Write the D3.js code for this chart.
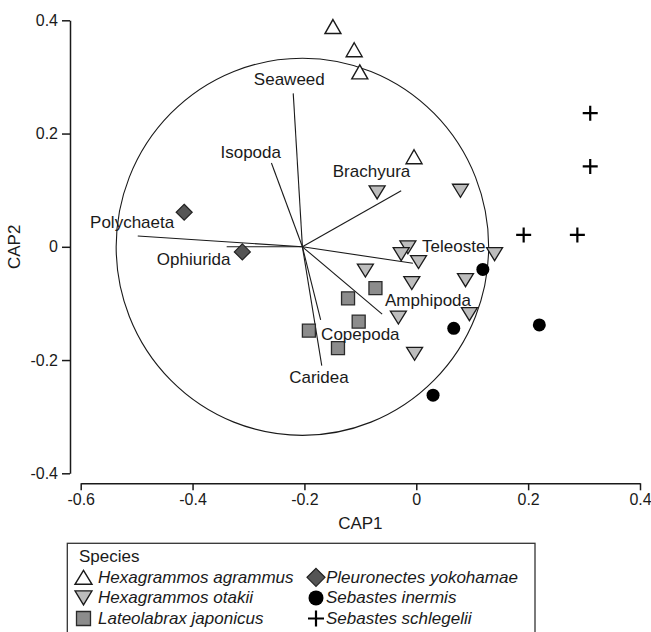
<!DOCTYPE html>
<html>
<head>
<meta charset="utf-8">
<script src="https://cdn.jsdelivr.net/npm/d3@7"></script>
<style>
  html, body { margin: 0; padding: 0; background: #fff; }
  svg { display: block; font-family: "Liberation Sans", Arial, sans-serif; }
</style>
</head>
<body>
<svg id="chart" width="651" height="632"></svg>
<script>
// ---- Data ----
const xTicks = [-0.6, -0.4, -0.2, 0, 0.2, 0.4];
const yTicks = [-0.4, -0.2, 0, 0.2, 0.4];

const agrammus = [[-0.149, 0.389], [-0.111, 0.348], [-0.101, 0.309], [-0.004, 0.159]];
const otakii = [[-0.070, 0.096], [0.079, 0.099], [-0.015, -0.001], [-0.027, -0.013], [0.004, -0.027],
  [-0.091, -0.042], [-0.008, -0.064], [0.088, -0.059], [0.140, -0.013], [-0.032, -0.125],
  [0.095, -0.119], [-0.003, -0.189]];
const japonicus = [[-0.073, -0.073], [-0.122, -0.091], [-0.103, -0.132], [-0.192, -0.148], [-0.140, -0.179]];
const yokohamae = [[-0.415, 0.061], [-0.311, -0.009]];
const inermis = [[0.119, -0.040], [0.067, -0.144], [0.030, -0.262], [0.220, -0.138]];
const schlegelii = [[0.311, 0.236], [0.311, 0.142], [0.192, 0.021], [0.288, 0.021]];

const vectorOrigin = [-0.2036, 0];
const circleRadius = 0.333;
const vectorNames = ["Seaweed", "Isopoda", "Polychaeta", "Ophiurida", "Brachyura", "Teleoste", "Amphipoda", "Copepoda", "Caridea"];
const vectorEnds = [[-0.220, 0.271], [-0.259, 0.148], [-0.498, 0.019], [-0.339, 0.000], [-0.027, 0.099],
  [-0.006, -0.029], [-0.061, -0.119], [-0.171, -0.129], [-0.169, -0.210]];
const vectorLabelAt = [[-0.227, 0.296], [-0.296, 0.166], [-0.508, 0.043], [-0.398, -0.023], [-0.080, 0.133],
  [0.067, 0.001], [0.021, -0.095], [-0.100, -0.154], [-0.174, -0.230]];

const speciesNames = ["Hexagrammos agrammus", "Hexagrammos otakii", "Lateolabrax japonicus",
  "Pleuronectes yokohamae", "Sebastes inermis", "Sebastes schlegelii"];

// ---- Setup ----
const svg = d3.select("#chart");
const x = d3.scaleLinear().domain([-0.6, 0.4]).range([80.7, 640]);
const y = d3.scaleLinear().domain([-0.4, 0.4]).range([473.3, 20.3]);
const fmt = v => v === 0 ? "0" : v.toFixed(1);
const ink = "#1a1a1a";

// Symbol path makers (local shape, centered at 0,0)
const shapes = {
  up: (w, h) => `M0,${-h/2}L${w/2},${h/2}L${-w/2},${h/2}Z`,
  down: (w, h) => `M${-w/2},${-h/2}L${w/2},${-h/2}L0,${h/2}Z`,
  square: (w) => `M${-w/2},${-w/2}h${w}v${w}h${-w}Z`,
  diamond: (w) => `M0,${-w/2}L${w/2},0L0,${w/2}L${-w/2},0Z`,
  circle: (w) => d3.arc()({innerRadius: 0, outerRadius: w/2, startAngle: 0, endAngle: 2*Math.PI}),
  plus: (w) => `M${-w/2},0H${w/2}M0,${-w/2}V${w/2}`
};
const styles = [
  {path: shapes.up(16, 14), fill: "#fff", stroke: ink, sw: 1.4},
  {path: shapes.down(16, 13), fill: "#bdbdbd", stroke: ink, sw: 1.3},
  {path: shapes.square(13), fill: "#8c8c8c", stroke: "#2a2a2a", sw: 1.3},
  {path: shapes.diamond(16), fill: "#555", stroke: "#222", sw: 1.2},
  {path: shapes.circle(13), fill: "#000", stroke: "none", sw: 0},
  {path: shapes.plus(15), fill: "none", stroke: "#000", sw: 2.2}
];
const seriesData = [agrammus, otakii, japonicus, yokohamae, inermis, schlegelii];

// ---- Axes ----
const xAxis = svg.append("g").attr("transform", "translate(0,483.3)")
  .call(d3.axisBottom(x).tickValues(xTicks).tickFormat(fmt).tickSize(7).tickSizeOuter(0).tickPadding(3));
const yAxis = svg.append("g").attr("transform", "translate(70,0)")
  .call(d3.axisLeft(y).tickValues(yTicks).tickFormat(fmt).tickSize(8).tickSizeOuter(0).tickPadding(4));
[xAxis, yAxis].forEach(g => {
  g.selectAll("path.domain").attr("stroke", ink).attr("stroke-width", 1.5);
  g.selectAll(".tick line").attr("stroke", ink).attr("stroke-width", 1.5);
  g.selectAll(".tick text").attr("fill", ink).attr("font-size", 16)
    .attr("font-family", "'Liberation Sans', Arial, sans-serif");
});

svg.append("text").attr("x", (x(-0.6) + x(0.4)) / 2).attr("y", 523).attr("text-anchor", "middle")
  .attr("dominant-baseline", "central").attr("font-size", 17).attr("fill", ink).text("CAP1");
svg.append("text").attr("transform", `translate(14,${(y(-0.4) + y(0.4)) / 2}) rotate(-90)`)
  .attr("text-anchor", "middle").attr("dominant-baseline", "central")
  .attr("font-size", 17).attr("fill", ink).text("CAP2");

// ---- Circle ----
svg.append("ellipse")
  .attr("cx", x(vectorOrigin[0])).attr("cy", y(vectorOrigin[1]))
  .attr("rx", x(circleRadius) - x(0)).attr("ry", y(0) - y(circleRadius))
  .attr("fill", "none").attr("stroke", ink).attr("stroke-width", 1.1);

// ---- Vectors ----
svg.append("g").selectAll("line").data(vectorEnds).join("line")
  .attr("x1", x(vectorOrigin[0])).attr("y1", y(vectorOrigin[1]))
  .attr("x2", d => x(d[0])).attr("y2", d => y(d[1]))
  .attr("stroke", ink).attr("stroke-width", 1.1);

// ---- Points ----
seriesData.forEach((pts, i) => {
  const st = styles[i];
  svg.append("g").selectAll("path").data(pts).join("path")
    .attr("transform", d => `translate(${x(d[0])},${y(d[1])})`)
    .attr("d", st.path).attr("fill", st.fill).attr("stroke", st.stroke)
    .attr("stroke-width", st.sw).attr("stroke-linejoin", "miter");
});

// ---- Vector labels ----
svg.append("g").selectAll("text").data(vectorNames).join("text")
  .attr("x", (d, i) => x(vectorLabelAt[i][0])).attr("y", (d, i) => y(vectorLabelAt[i][1]))
  .attr("text-anchor", "middle").attr("dominant-baseline", "central")
  .attr("font-size", 17).attr("fill", ink).text(d => d);

// ---- Legend ----
const lg = svg.append("g");
lg.append("rect").attr("x", 67.3).attr("y", 543.3).attr("width", 467.7).attr("height", 100)
  .attr("fill", "#fff").attr("stroke", "#333").attr("stroke-width", 1.3);
lg.append("text").attr("x", 79).attr("y", 556).attr("dominant-baseline", "central")
  .attr("font-size", 17).attr("fill", ink).text("Species");
const legendLarge = [
  shapes.up(17, 14), shapes.down(17, 14), shapes.square(14),
  shapes.diamond(18), shapes.circle(15), shapes.plus(16)
];
speciesNames.forEach((name, i) => {
  const col = Math.floor(i / 3), row = i % 3;
  const sx = col === 0 ? 83.5 : 316, tx = col === 0 ? 98 : 326;
  const cy = 577.3 + row * 20.6;
  const st = styles[i];
  lg.append("path").attr("transform", `translate(${sx},${cy})`).attr("d", legendLarge[i])
    .attr("fill", st.fill).attr("stroke", st.stroke).attr("stroke-width", st.sw);
  lg.append("text").attr("x", tx).attr("y", cy).attr("dominant-baseline", "central")
    .attr("font-size", 17).attr("font-style", "italic").attr("fill", ink).text(name);
});
</script>
</body>
</html>
